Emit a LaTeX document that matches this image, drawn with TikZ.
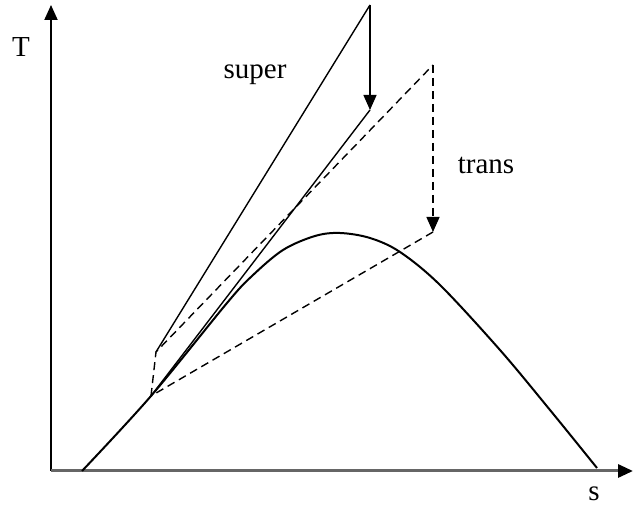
\documentclass[tikz,border=0pt]{standalone}
\usepackage{fontspec}
\setmainfont{Liberation Serif}
\usetikzlibrary{arrows.meta}
\begin{document}
\begin{tikzpicture}[x=0.5pt, y=-0.5pt, font=\fontsize{14.5}{17}\selectfont,
  hd/.style={-{Triangle[length=7.5pt, width=6.5pt]}},
  dsh/.style={dash pattern=on 4pt off 2.5pt}]
\useasboundingbox (0,0) rectangle (633,506);
% axes
\coordinate (o) at (51,471);
\coordinate (ytop) at (51,5);
\coordinate (xend) at (633,471);
\draw[line width=1pt, hd] (o) -- (ytop);
\draw[line width=1.5pt, black!60, -{Triangle[length=7.5pt, width=6.5pt, color=black]}] (o) -- (xend);
\node (T) at (21,47) {T};
\node[inner sep=1pt] (s) at (594,494) {s};
% dome
\draw[line width=1pt] plot[smooth, tension=0.55] coordinates {(82,471) (151,396) (227,303) (252,276) (283,250) (315,236) (340,233) (370,238) (400,252) (440,285) (500,350) (550,410) (597,468)};
% points of the two paths
\coordinate (A) at (151,396);
\coordinate (B) at (156,352);
\coordinate (C) at (370,5);
\coordinate (D) at (370,110);
\coordinate (E) at (433,65);
\coordinate (F) at (433,232);
% super
\draw[line width=0.7pt] (B) -- (C);
\draw[line width=0.7pt, hd] (C) -- (D);
\draw[line width=0.7pt] (D) -- (A);
\node (super) at (255,75) {super};
% trans
\draw[line width=0.7pt, dsh] (A) -- (B) -- (E);
\draw[line width=0.7pt, dsh, hd] (E) -- (F);
\draw[line width=0.7pt, dsh] (F) -- (A);
\node (trans) at (486,165) {trans};
\end{tikzpicture}
\end{document}
